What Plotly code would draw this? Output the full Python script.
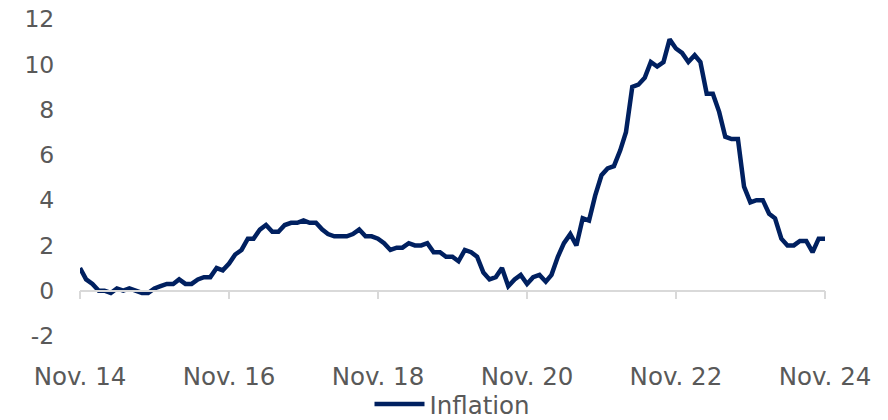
import plotly.graph_objects as go
import pandas as pd

# UK CPI inflation, % y/y, monthly Nov 2014 - Nov 2024
start_month = "2014-11-01"
inflation = [
    1.0, 0.5,                                                      # 2014 Nov-Dec
    0.3, 0.0, 0.0, -0.1, 0.1, 0.0, 0.1, 0.0, -0.1, -0.1, 0.1, 0.2,  # 2015
    0.3, 0.3, 0.5, 0.3, 0.3, 0.5, 0.6, 0.6, 1.0, 0.9, 1.2, 1.6,     # 2016
    1.8, 2.3, 2.3, 2.7, 2.9, 2.6, 2.6, 2.9, 3.0, 3.0, 3.1, 3.0,     # 2017
    3.0, 2.7, 2.5, 2.4, 2.4, 2.4, 2.5, 2.7, 2.4, 2.4, 2.3, 2.1,     # 2018
    1.8, 1.9, 1.9, 2.1, 2.0, 2.0, 2.1, 1.7, 1.7, 1.5, 1.5, 1.3,     # 2019
    1.8, 1.7, 1.5, 0.8, 0.5, 0.6, 1.0, 0.2, 0.5, 0.7, 0.3, 0.6,     # 2020
    0.7, 0.4, 0.7, 1.5, 2.1, 2.5, 2.0, 3.2, 3.1, 4.2, 5.1, 5.4,     # 2021
    5.5, 6.2, 7.0, 9.0, 9.1, 9.4, 10.1, 9.9, 10.1, 11.1, 10.7, 10.5,  # 2022
    10.1, 10.4, 10.1, 8.7, 8.7, 7.9, 6.8, 6.7, 6.7, 4.6, 3.9, 4.0,  # 2023
    4.0, 3.4, 3.2, 2.3, 2.0, 2.0, 2.2, 2.2, 1.7, 2.3, 2.3,          # 2024 Jan-Nov
]
months = pd.date_range(start_month, periods=len(inflation), freq="MS")

tick_dates = ["2014-11-01", "2016-11-01", "2018-11-01", "2020-11-01", "2022-11-01", "2024-11-01"]
tick_labels = ["Nov. 14", "Nov. 16", "Nov. 18", "Nov. 20", "Nov. 22", "Nov. 24"]
y_ticks = [-2, 0, 2, 4, 6, 8, 10, 12]
y_tick_labels = ["-2", "0", "2", "4", "6", "8", "10", "12"]
y_range = [-2, 12]

NAVY = "#002060"
GREY_TXT = "#595959"
AXIS_GREY = "#d9d9d9"
FONT = "DejaVu Sans"
FS = 24.5

fig = go.Figure()
fig.add_trace(go.Scatter(
    x=months, y=inflation, mode="lines", name="Inflation",
    line=dict(color=NAVY, width=4.5), xaxis="x", yaxis="y",
))
# invisible copy to carry the bottom label axis
fig.add_trace(go.Scatter(
    x=months, y=inflation, mode="lines", showlegend=False, hoverinfo="skip",
    line=dict(color="rgba(0,0,0,0)", width=0), xaxis="x2", yaxis="y",
))

x_range = [months[0], months[-1]]
zero_pos = (0 - y_range[0]) / (y_range[1] - y_range[0])

fig.update_layout(
    width=888, height=420,
    margin=dict(l=80, r=63, t=19, b=84, autoexpand=False),
    paper_bgcolor="white", plot_bgcolor="white",
    font=dict(family=FONT, size=FS, color=GREY_TXT),
    showlegend=True,
    legend=dict(orientation="h", x=0.5, xanchor="center", y=-0.215, yanchor="middle",
                itemwidth=50, font=dict(size=FS, color=GREY_TXT), bgcolor="rgba(0,0,0,0)"),
    xaxis=dict(
        range=x_range, anchor="free", position=zero_pos, automargin=False,
        showline=True, linecolor=AXIS_GREY, linewidth=1.5,
        ticks="outside", ticklen=8, tickwidth=1.5, tickcolor=AXIS_GREY,
        tickvals=tick_dates, showticklabels=False, showgrid=False, zeroline=False,
    ),
    xaxis2=dict(
        range=x_range, overlaying="x", anchor="y", side="bottom", automargin=False,
        showline=False, showgrid=False, zeroline=False,
        tickvals=tick_dates, ticktext=tick_labels,
        ticks="outside", ticklen=19, tickcolor="rgba(0,0,0,0)",
        tickfont=dict(family=FONT, size=FS, color=GREY_TXT),
    ),
    yaxis=dict(
        range=y_range, tickvals=y_ticks, ticktext=y_tick_labels, automargin=False,
        showgrid=False, zeroline=False, showline=False,
        ticks="outside", ticklen=20, tickcolor="rgba(0,0,0,0)",
        tickfont=dict(family=FONT, size=23.5, color=GREY_TXT),
    ),
)

fig.write_html("out.html", config={"displayModeBar": False},
               post_script="document.body.style.margin='0';")
